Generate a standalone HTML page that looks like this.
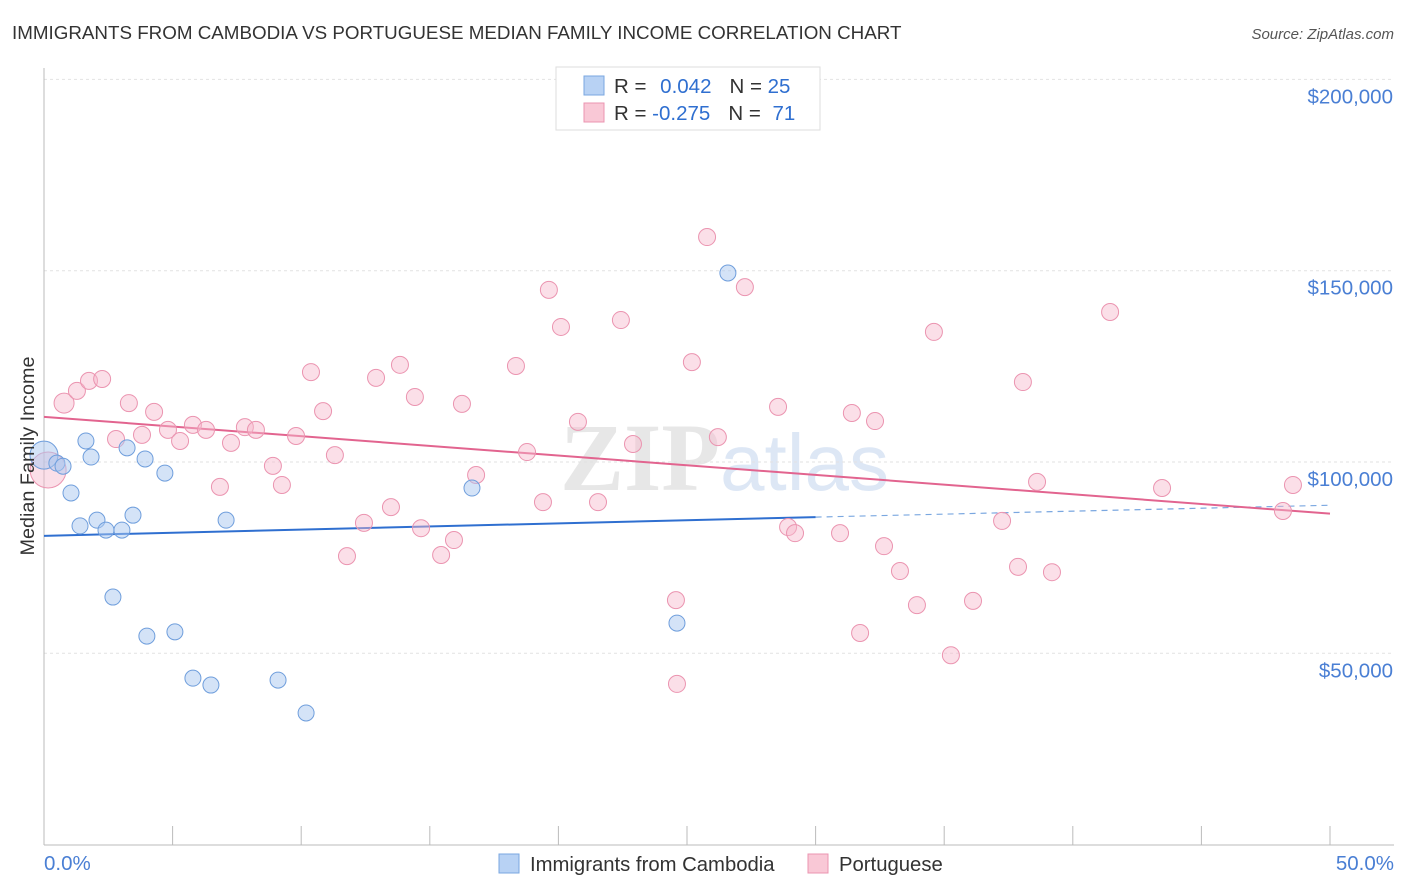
<!DOCTYPE html>
<html><head><meta charset="utf-8"><style>
body{margin:0;background:#fff;font-family:"Liberation Sans",sans-serif}
svg{display:block}
</style></head><body>
<svg id="chart" width="1406" height="892">
<text x="12" y="39" font-size="18.8" fill="#333">IMMIGRANTS FROM CAMBODIA VS PORTUGUESE MEDIAN FAMILY INCOME CORRELATION CHART</text>
<text x="1394" y="39" font-size="15" fill="#555" font-style="italic" text-anchor="end">Source: ZipAtlas.com</text>
<text x="720" y="490" font-size="96" font-family="Liberation Serif,serif" font-weight="bold" fill="#d8d8d8" opacity="0.6" text-anchor="end">ZIP</text>
<text x="720" y="490" font-size="80" fill="#c8d8ef" opacity="0.6">atlas</text>
<g id="grid"></g><g id="axes"></g><g id="trend"></g><g id="pts"></g>
<text transform="translate(34,456) rotate(-90)" font-size="19.8" fill="#333" text-anchor="middle">Median Family Income</text>
<text x="44" y="870" font-size="20.5" fill="#4a7fd4">0.0%</text>
<text x="1394" y="870" font-size="20.5" fill="#4a7fd4" text-anchor="end">50.0%</text>
<g>
<rect x="556" y="67" width="264" height="63" fill="#fff" stroke="#ddd"/>
<rect x="584" y="76" width="20" height="19" fill="#b8d2f4" stroke="#7aa7e0"/>
<rect x="584" y="103" width="20" height="19" fill="#f9c8d6" stroke="#eb94b0"/>
<text x="614" y="93" font-size="20.5" fill="#333">R = <tspan fill="#2f6fd0" dx="8">0.042</tspan><tspan dx="18" fill="#333">N = </tspan><tspan fill="#2f6fd0">25</tspan></text>
<text x="614" y="120" font-size="20.5" fill="#333">R = <tspan fill="#2f6fd0">-0.275</tspan><tspan dx="18" fill="#333">N = </tspan><tspan fill="#2f6fd0" dx="6">71</tspan></text>
</g>
<g>
<rect x="499" y="854" width="20" height="19" fill="#b8d2f4" stroke="#7aa7e0"/>
<text x="530" y="871" font-size="20.3" fill="#333">Immigrants from Cambodia</text>
<rect x="808" y="854" width="20" height="19" fill="#f9c8d6" stroke="#eb94b0"/>
<text x="839" y="871" font-size="20.3" fill="#333">Portuguese</text>
</g>
</svg>
<script>
const yTicks=[50000,100000,150000,200000];
const yTickLabels=["$50,000","$100,000","$150,000","$200,000"];
const blueX=[0.0,0.5,0.74,1.63,1.83,1.05,1.40,2.06,2.41,3.03,3.46,3.23,3.93,4.70,7.08,2.68,4.00,5.09,5.79,6.49,9.10,10.19,16.64,24.61,26.59];
const blueY=[101.8,99.7,98.9,105.5,101.3,91.9,83.3,84.8,82.2,82.2,86.1,103.7,100.8,97.1,84.8,64.7,54.5,55.6,43.5,41.7,43.0,34.4,93.2,57.9,149.4];
const pinkX=[0.16,0.78,1.28,1.75,2.26,3.30,2.80,3.81,4.28,4.82,5.29,5.79,6.30,7.27,6.84,7.81,8.24,8.90,9.25,9.80,10.38,10.85,11.31,11.78,12.44,12.91,13.49,13.84,14.42,14.66,15.44,15.94,16.25,16.80,18.35,18.78,19.40,19.63,20.10,20.76,21.54,22.43,22.90,24.57,24.61,25.19,25.78,26.20,27.25,28.54,28.93,29.20,30.95,31.41,31.73,32.31,32.66,33.28,33.94,34.60,35.26,36.12,37.25,37.87,38.06,38.61,39.19,41.45,43.47,48.17,48.56];
const pinkY=[97.9,115.4,118.6,121.2,121.7,115.4,106.0,107.1,113.1,108.4,105.5,109.7,108.4,105.0,93.5,109.1,108.4,99.0,94.0,106.8,123.5,113.3,101.8,75.4,84.1,122.0,88.2,125.4,117.0,82.7,75.7,79.6,115.2,96.6,125.1,102.6,89.5,145.0,135.3,110.5,89.5,137.1,104.7,63.9,42.0,126.1,158.8,106.5,145.7,114.4,83.0,81.4,81.4,112.8,55.3,110.7,78.0,71.5,62.6,134.0,49.5,63.7,84.6,72.6,120.9,94.8,71.2,139.2,93.2,87.2,94.0];
const blueTrend=[80.7,85.6,88.7]; // at 0%,30%,50%
const pinkTrend=[111.8,86.5]; // at 0%,50%
const NS="http://www.w3.org/2000/svg";
const X=p=>44+p*(1286/50);
const Y=k=>462-(k-100)*(191.3/50);
function mk(t,a,parent){const e=document.createElementNS(NS,t);for(const k in a)e.setAttribute(k,a[k]);document.getElementById(parent).appendChild(e);return e;}
yTicks.forEach((v,i)=>{
 const l=mk('line',{x1:44,x2:1394,y1:Y(v/1000),y2:Y(v/1000),stroke:'#e2e2e2','stroke-dasharray':'3,3'},'grid');
 
 
 const t=mk('text',{x:1393,y:Y(v/1000)+24,'font-size':20.5,fill:'#4a7fd4','text-anchor':'end'},'grid');
 t.textContent=yTickLabels[i];
 
 
});
mk('line',{x1:44,x2:44,y1:68,y2:845,stroke:'#bbb'},'axes');
mk('line',{x1:44,x2:1394,y1:845,y2:845,stroke:'#bbb'},'axes');
for(let i=0;i<=10;i++){const l=mk('line',{x1:X(i*5),x2:X(i*5),y1:826,y2:845,stroke:'#bbb'},'axes');
 
 }
let t1=mk('line',{x1:X(0),y1:Y(blueTrend[0]),x2:X(30),y2:Y(blueTrend[1]),stroke:'#2f6fd0','stroke-width':2},'trend');


let t2=mk('line',{x1:X(30),y1:Y(blueTrend[1]),x2:X(50),y2:Y(blueTrend[2]),stroke:'#7aa7e0','stroke-width':1.2,'stroke-dasharray':'6,5'},'trend');


let t3=mk('line',{x1:X(0),y1:Y(pinkTrend[0]),x2:X(50),y2:Y(pinkTrend[1]),stroke:'#e2648f','stroke-width':2},'trend');


pinkX.forEach((x,i)=>{const c=mk('circle',{cx:X(x),cy:Y(pinkY[i]),r:i==0?18:(i==1?10:8.5),fill:'#f6b8cb','fill-opacity':0.45,stroke:'#eb94b0','stroke-width':1},'pts');
 
 });
blueX.forEach((x,i)=>{const c=mk('circle',{cx:X(x),cy:Y(blueY[i]),r:i==0?14:8,fill:'#a9c8f0','fill-opacity':0.5,stroke:'#6f9edc','stroke-width':1},'pts');
 
 });
</script>
</body></html>
